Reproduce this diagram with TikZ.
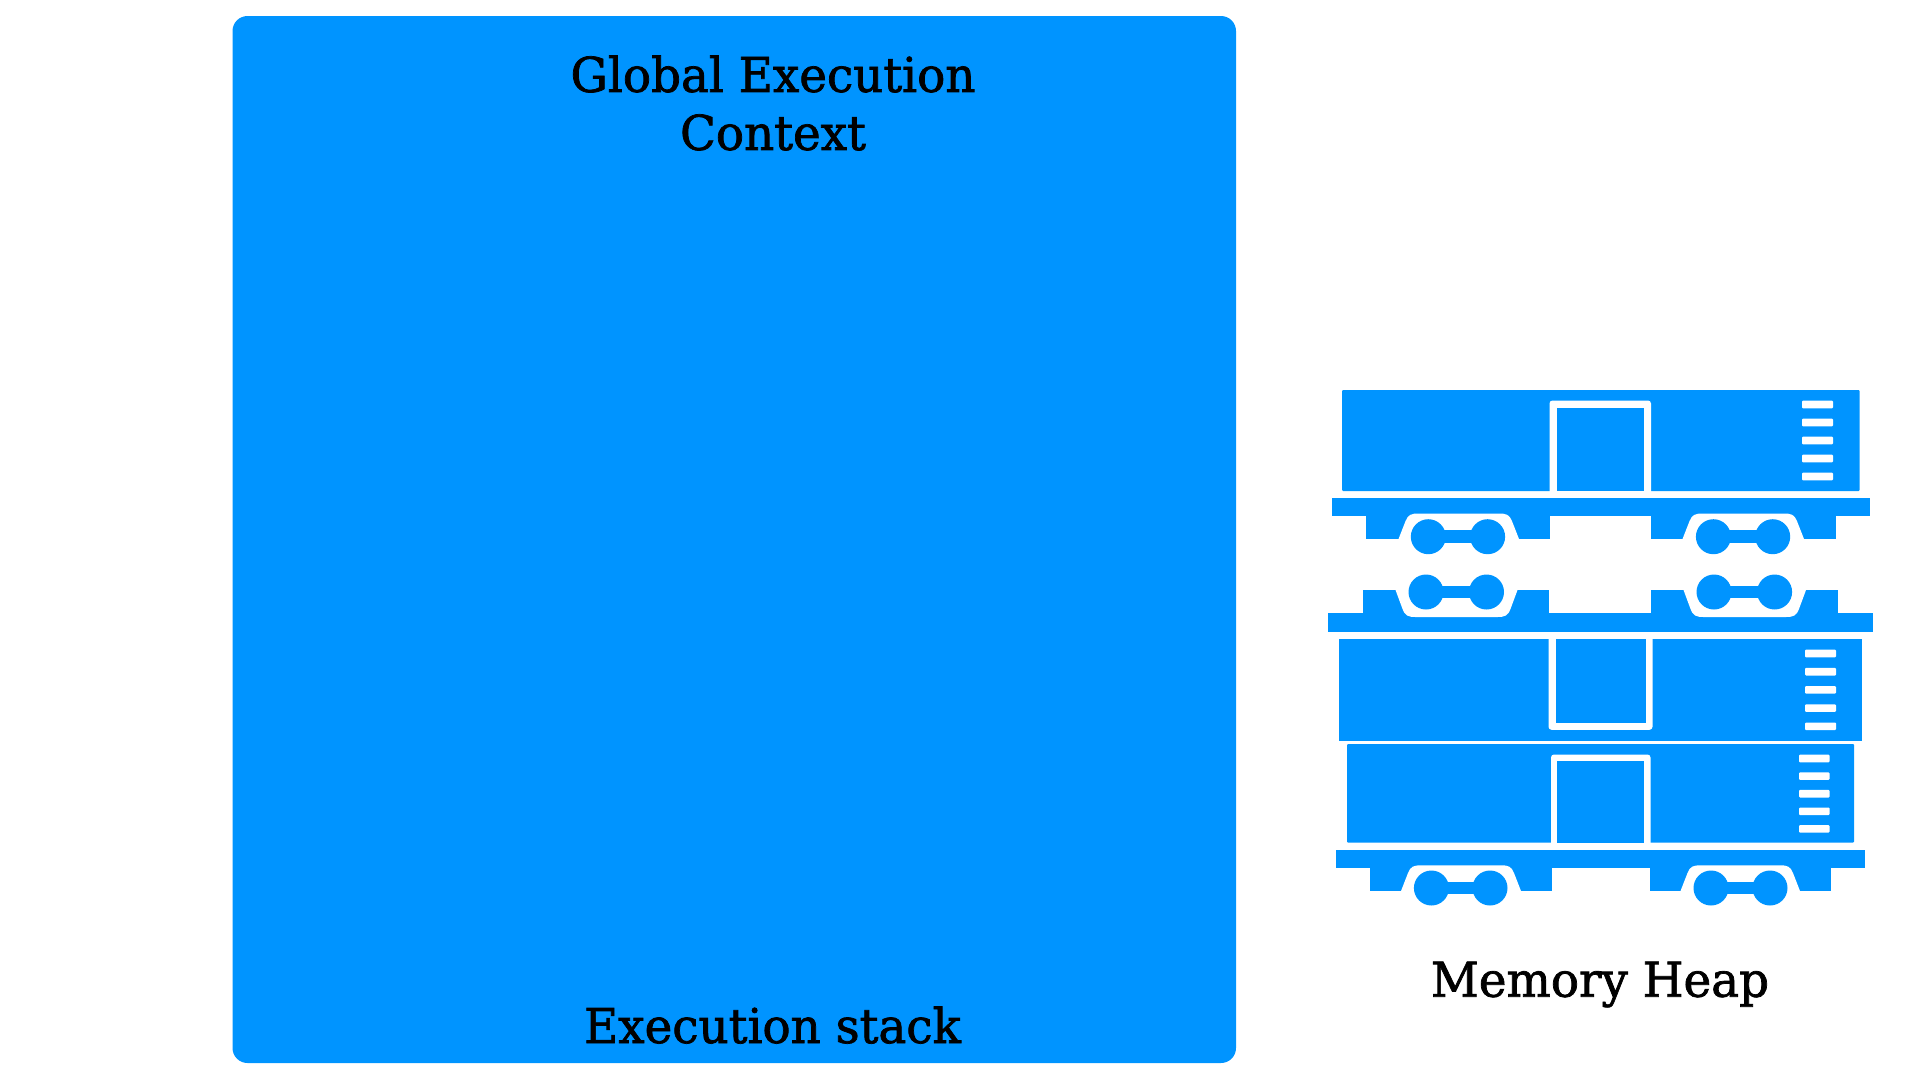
\documentclass[tikz,border=0pt]{standalone}
\usepackage{fontspec}
\usepackage{tikz}
\usetikzlibrary{positioning}
\newfontfamily\slabfont[FakeStretch=0.975,FakeBold=1.5]{DejaVu Serif}
\definecolor{heapblue}{RGB}{0,148,255}

% #1 left #2 right #3 arch left #4 arch right #5 block end #6 arch top #7 platform side
\newcommand{\truckblock}[7]{
    \fill[heapblue] (#1,#7) rectangle (#2,#5);
    \fill[white] (#3,#5) -- ({#3+7},{#6+.3*(#5-#6)}) .. controls ({#3+9.5},{#6+.05*(#5-#6)}) and ({#3+12.5},#6) .. ({#3+20},#6)
        -- ({#4-20},#6) .. controls ({#4-12.5},#6) and ({#4-9.5},{#6+.05*(#5-#6)}) .. ({#4-7},{#6+.3*(#5-#6)}) -- (#4,#5) -- cycle;
}
% #1 first wheel #2 second wheel #3 height
\newcommand{\wheelset}[3]{
    \fill[heapblue] (#1,#3) circle (17.5) (#2,#3) circle (17.5);
    \fill[heapblue] (#1,{#3-6.3}) rectangle (#2,{#3+6.3});
}
% #1 first stripe #2 x left #3 x right #4 step
\newcommand{\stripes}[4]{
    \foreach \i in {0,...,4} {
        \fill[white, rounded corners=1pt] (#2,{#1+\i*#4-.3}) rectangle (#3,{#1+\i*#4+7.3});
    }
}

\begin{document}
\begin{tikzpicture}[
    x=1pt, y=-1pt,
    panel/.style={fill=heapblue, rounded corners=15pt, inner sep=0pt},
    caption/.style={font=\slabfont\fontsize{48}{58}\selectfont, text=black, align=center, inner sep=0pt}
]
\useasboundingbox (0,0) rectangle (1920,1080);

% Execution stack
\node[panel, minimum width=1003.5pt, minimum height=1047pt] (stackpanel) at (734.25,539.5) {};
\node[caption, anchor=center] (title) at (773,103) {Global Execution\\Context};
\node[caption, anchor=base] (stack) at (772.5,1043) {Execution stack};

% Top car
\fill[heapblue, rounded corners=1pt] (1342,390) rectangle (1859.5,491);
\fill[white, rounded corners=3pt] (1549.5,400.5) rectangle (1651,495);
\fill[heapblue] (1557,408) rectangle (1644,491);
\stripes{401}{1802}{1833}{18}
\fill[heapblue] (1332,498) rectangle (1869.5,516);
\truckblock{1366}{1550}{1398.5}{1519}{539}{513.5}{510}
\truckblock{1650.5}{1835.5}{1682.5}{1804}{539}{513.5}{510}
\wheelset{1428.3}{1487.6}{536.7}
\wheelset{1713.4}{1772.7}{536.7}

% Flipped car
\fill[heapblue] (1328,613.3) rectangle (1873,631.7);
\truckblock{1363}{1549}{1395.5}{1517.5}{590}{617}{620}
\truckblock{1650.5}{1838}{1683.5}{1806}{590}{617}{620}
\wheelset{1426}{1486.5}{592}
\wheelset{1714}{1774.6}{592}
\fill[heapblue] (1339,639) rectangle (1862,740.7);
\fill[white, rounded corners=3pt] (1548.5,635) rectangle (1652.5,729.8);
\fill[heapblue] (1556,639) rectangle (1645.7,722.7);
\stripes{650}{1805}{1836}{18.2}

% Bottom car
\fill[heapblue, rounded corners=1pt] (1347,744) rectangle (1854,842.7);
\fill[white, rounded corners=3pt] (1551,754.5) rectangle (1650.5,846);
\fill[heapblue] (1557,761.3) rectangle (1644,842.7);
\stripes{755}{1799}{1829.5}{17.6}
\fill[heapblue] (1336,850) rectangle (1865.3,868);
\truckblock{1370}{1551.5}{1401}{1521}{891}{865.3}{862}
\truckblock{1650}{1831}{1680.5}{1800}{891}{865.3}{862}
\wheelset{1431.4}{1490}{888}
\wheelset{1711}{1770}{888}

\node[caption, anchor=base] (heap) at (1600,996.7) {Memory Heap};

\end{tikzpicture}
\end{document}
